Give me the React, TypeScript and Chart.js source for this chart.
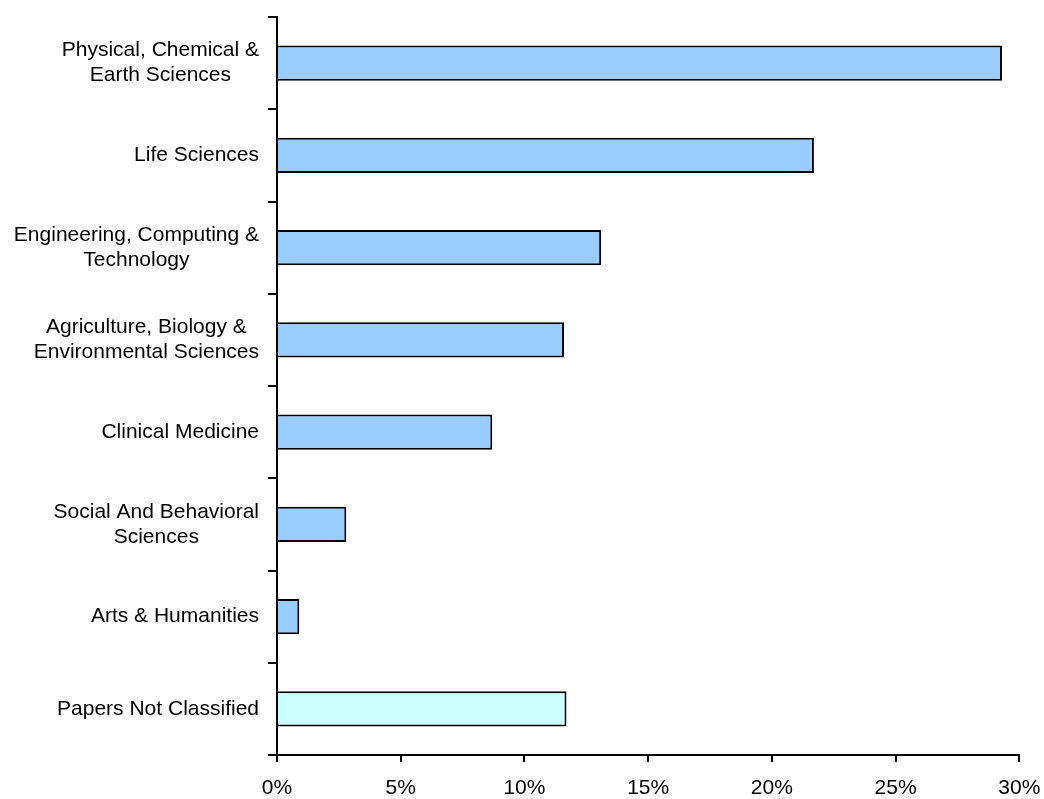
import { useEffect, useRef } from 'react';
import { Chart, registerables } from 'chart.js';

Chart.register(...registerables);

// Subject fields, each split into the lines it wraps onto
const categories: string[][] = [
  ['Physical, Chemical &', 'Earth Sciences'],
  ['Life Sciences'],
  ['Engineering, Computing &', 'Technology'],
  ['Agriculture, Biology &', 'Environmental Sciences'],
  ['Clinical Medicine'],
  ['Social And Behavioral', 'Sciences'],
  ['Arts & Humanities'],
  ['Papers Not Classified'],
];

// Share of papers per field, in percent
const shares: number[] = [29.3, 21.7, 13.1, 11.6, 8.7, 2.8, 0.9, 11.7];

// Percent ticks along the value axis
const xTicks: number[] = [0, 5, 10, 15, 20, 25, 30];

const FONT = "'Liberation Sans', Arial, sans-serif";
const LABEL_SIZE = 21;
const LINE_H = 25;
const CLASSIFIED_FILL = '#99CCFF';
const UNCLASSIFIED_FILL = '#CCFFFF';

// Draws the category names right-aligned as blocks, with the lines of
// each block centred on one another.
const categoryLabels = {
  id: 'categoryLabels',
  afterDraw(chart: any) {
    const { ctx } = chart;
    const yScale = chart.scales.y;
    const right = yScale.right - 18;
    ctx.save();
    ctx.font = `${LABEL_SIZE}px ${FONT}`;
    ctx.fillStyle = '#000';
    ctx.textAlign = 'center';
    ctx.textBaseline = 'middle';
    categories.forEach((lines, i) => {
      const cy = yScale.getPixelForValue(i);
      const w = Math.max(...lines.map((l) => ctx.measureText(l).width));
      const cx = right - w / 2;
      lines.forEach((line, k) => {
        ctx.fillText(line, cx, cy + (k - (lines.length - 1) / 2) * LINE_H);
      });
    });
    ctx.restore();
  },
};

export default function App() {
  const canvasRef = useRef<HTMLCanvasElement | null>(null);

  useEffect(() => {
    if (!canvasRef.current) return;
    const chart = new Chart(canvasRef.current, {
      type: 'bar',
      data: {
        labels: categories,
        datasets: [
          {
            data: shares,
            backgroundColor: categories.map((_, i) =>
              i === categories.length - 1 ? UNCLASSIFIED_FILL : CLASSIFIED_FILL
            ),
            borderColor: '#000',
            borderWidth: 2,
            categoryPercentage: 1,
            barPercentage: 0.38,
          },
        ],
      },
      options: {
        indexAxis: 'y',
        animation: false,
        responsive: false,
        devicePixelRatio: 1,
        layout: { padding: { top: 17, right: 24.7, left: 0, bottom: 0 } },
        plugins: {
          legend: { display: false },
          tooltip: { enabled: false },
        },
        scales: {
          x: {
            type: 'linear',
            min: 0,
            max: 30,
            afterBuildTicks: (scale: any) => {
              scale.ticks = xTicks.map((v) => ({ value: v }));
            },
            afterFit: (scale: any) => {
              scale.height = 44;
              scale.paddingLeft = 0;
              scale.paddingRight = 0;
            },
            border: { display: true, color: '#000', width: 2 },
            grid: {
              drawOnChartArea: false,
              drawTicks: true,
              tickLength: 7,
              color: '#000',
              lineWidth: 2,
            },
            ticks: {
              color: '#000',
              font: { family: FONT, size: 21 },
              padding: 14,
              maxRotation: 0,
              callback: (v: any) => `${v}%`,
            },
          },
          y: {
            type: 'category',
            offset: true,
            afterFit: (scale: any) => {
              scale.width = 277;
            },
            border: { display: true, color: '#000', width: 2 },
            grid: {
              offset: true,
              drawOnChartArea: false,
              drawTicks: true,
              tickLength: 9,
              color: '#000',
              lineWidth: 2,
            },
            ticks: { display: false },
          },
        },
      },
      plugins: [categoryLabels],
    });
    return () => chart.destroy();
  }, []);

  return (
    <div style={{ position: 'absolute', left: 0, top: 0, width: 1044, height: 799, background: '#fff' }}>
      <canvas ref={canvasRef} width={1044} height={799} />
    </div>
  );
}
